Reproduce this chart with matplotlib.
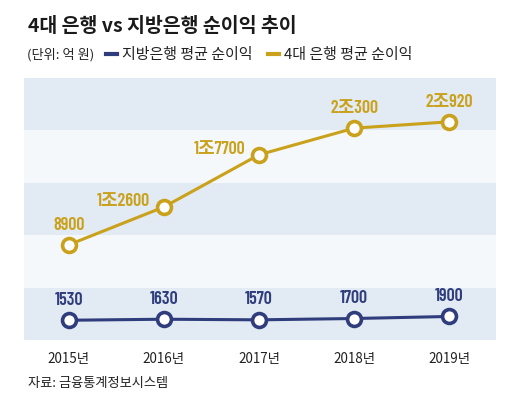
import matplotlib
matplotlib.use("Agg")
import matplotlib.pyplot as plt
from matplotlib.lines import Line2D
import numpy as np

plt.rcParams['font.family'] = ['Noto Sans CJK KR', 'DejaVu Sans']

years = ["2015년", "2016년", "2017년", "2018년", "2019년"]
big4 = [8900, 12600, 17700, 20300, 20920]
big4_labels = ["8900", "1조2600", "1조7700", "2조300", "2조920"]
local = [1530, 1630, 1570, 1700, 1900]
local_labels = ["1530", "1630", "1570", "1700", "1900"]

gold = "#c9a11b"
navy = "#2f3d7c"
band_dark = "#e2eaf3"
band_light = "#f5f8fb"
num_font = ['Barlow Condensed', 'Noto Sans CJK KR']

fig = plt.figure(figsize=(5.2, 4.03), dpi=100)
ax = fig.add_axes([24 / 520, 1 - 340 / 403, 472 / 520, 262 / 403])

ylo, yhi = -400, 25200
edges = np.linspace(ylo, yhi, 6)
for i in range(5):
    ax.axhspan(edges[i], edges[i + 1], color=band_dark if i % 2 == 0 else band_light,
               lw=0, zorder=0)

x = np.arange(len(years))
ax.plot(x, big4, color=gold, lw=2.2, marker='o', ms=10, mfc='white',
        mec=gold, mew=2.6, zorder=3)
ax.plot(x, local, color=navy, lw=2.2, marker='o', ms=10, mfc='white',
        mec=navy, mew=2.6, zorder=3)

for i, (v, lab) in enumerate(zip(big4, big4_labels)):
    if i in (1, 2):
        ax.annotate(lab, (x[i], v), xytext=(-10, 4), textcoords='offset points',
                    ha='right', va='center', color=gold, fontsize=13,
                    fontweight=600, family=num_font)
    else:
        ax.annotate(lab, (x[i], v), xytext=(0, 14), textcoords='offset points',
                    ha='center', va='center', color=gold, fontsize=13,
                    fontweight=600, family=num_font)

for i, (v, lab) in enumerate(zip(local, local_labels)):
    ax.annotate(lab, (x[i], v), xytext=(0, 14.5), textcoords='offset points',
                ha='center', va='center', color=navy, fontsize=13,
                fontweight=600, family=num_font)

ax.set_xlim(-0.47, 4.49)
ax.set_ylim(ylo, yhi)
ax.set_xticks(x)
ax.set_xticklabels(years, fontsize=9.7, color="#222222")
ax.tick_params(axis='x', length=0, pad=9)
ax.set_yticks([])
for s in ax.spines.values():
    s.set_visible(False)

fig.text(28 / 520, 1 - 26 / 403, "4대 은행 vs 지방은행 순이익 추이", fontsize=14,
         fontweight='bold', color="#1a1a1a", va='center', ha='left')
fig.text(27 / 520, 1 - 55 / 403, "(단위: 억 원)", fontsize=9.5, color="#222222",
         va='center', ha='left')
handles = [Line2D([0], [0], color=navy, lw=3), Line2D([0], [0], color=gold, lw=3)]
fig.legend(handles, ["지방은행 평균 순이익", "4대 은행 평균 순이익"], ncol=2,
           loc='center left', bbox_to_anchor=(106 / 520, 1 - 55 / 403),
           frameon=False, fontsize=10.8, handlelength=0.7, handletextpad=0.4,
           columnspacing=1.0, borderaxespad=0, borderpad=0,
           labelcolor="#222222")
fig.text(28 / 520, 1 - 384 / 403, "자료: 금융통계정보시스템", fontsize=9.5,
         color="#222222", va='center', ha='left')

fig.savefig("out.png", dpi=100)
